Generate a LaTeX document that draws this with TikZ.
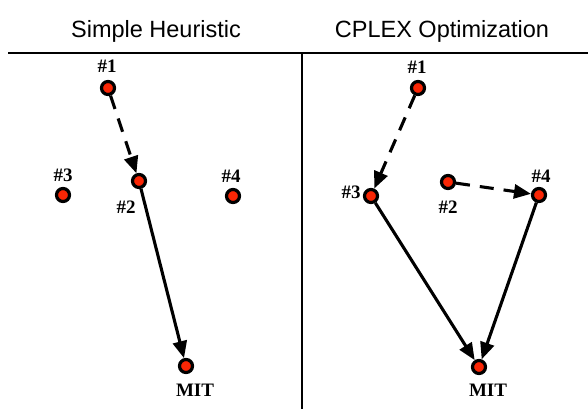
\documentclass[tikz,border=0pt]{standalone}
\usepackage{fontspec}
\setmainfont{Liberation Serif}
\setsansfont{Liberation Sans}
\usepackage{tikz}
\usetikzlibrary{arrows.meta,positioning}
\definecolor{sitered}{RGB}{250,38,5}

\begin{document}
\begin{tikzpicture}[
    x=1pt, y=-1pt,
    site/.style={draw, circle, line width=3.2pt, fill=sitered, minimum size=13pt, inner sep=0pt},
    tag/.style={font=\fontsize{19}{21}\selectfont\bfseries, inner sep=0pt},
    heading/.style={font=\fontsize{23.5}{26}\selectfont\sffamily, inner sep=0pt, anchor=base},
    route/.style={draw, line width=3.1pt, -{Triangle[length=17pt, width=14pt]}},
    hop/.style={route, dash pattern=on 14pt off 10pt},
]
\useasboundingbox (0,0) rectangle (588,409);
\draw[line width=2.8pt] (8,53) -- (588,53);
\draw[line width=2.2pt] (302,53) -- (302,409);
\node[heading] (th) at (156,38) {Simple Heuristic};
\node[heading] (tc) at (442,38) {CPLEX Optimization};

\node[site] (h1) at (108,88) {};
\node[site] (h2) at (139,181) {};
\node[site] (h3) at (63,195) {};
\node[site] (h4) at (233,196) {};
\node[site] (hmit) at (186,366) {};
\node[tag] (lh1) at (107,66) {\#1};
\node[tag] (lh2) at (126,207) {\#2};
\node[tag] (lh3) at (63,175) {\#3};
\node[tag] (lh4) at (231,176) {\#4};
\node[tag] (lhmit) at (195,390) {MIT};
\path[hop] (h1) -- (h2);
\path[route] (h2) -- (hmit);

\node[site] (c1) at (418,88) {};
\node[site] (c2) at (448,182) {};
\node[site] (c3) at (371,196) {};
\node[site] (c4) at (539,195) {};
\node[site] (cmit) at (479,367) {};
\node[tag] (lc1) at (417,67) {\#1};
\node[tag] (lc2) at (448,207) {\#2};
\node[tag] (lc3) at (351,192) {\#3};
\node[tag] (lc4) at (541,176) {\#4};
\node[tag] (lcmit) at (488,390) {MIT};
\path[hop] (c1) -- (c3);
\path[hop] (c2) -- (c4);
\path[route] (c3) -- (cmit);
\path[route] (c4) -- (cmit);
\end{tikzpicture}
\end{document}
